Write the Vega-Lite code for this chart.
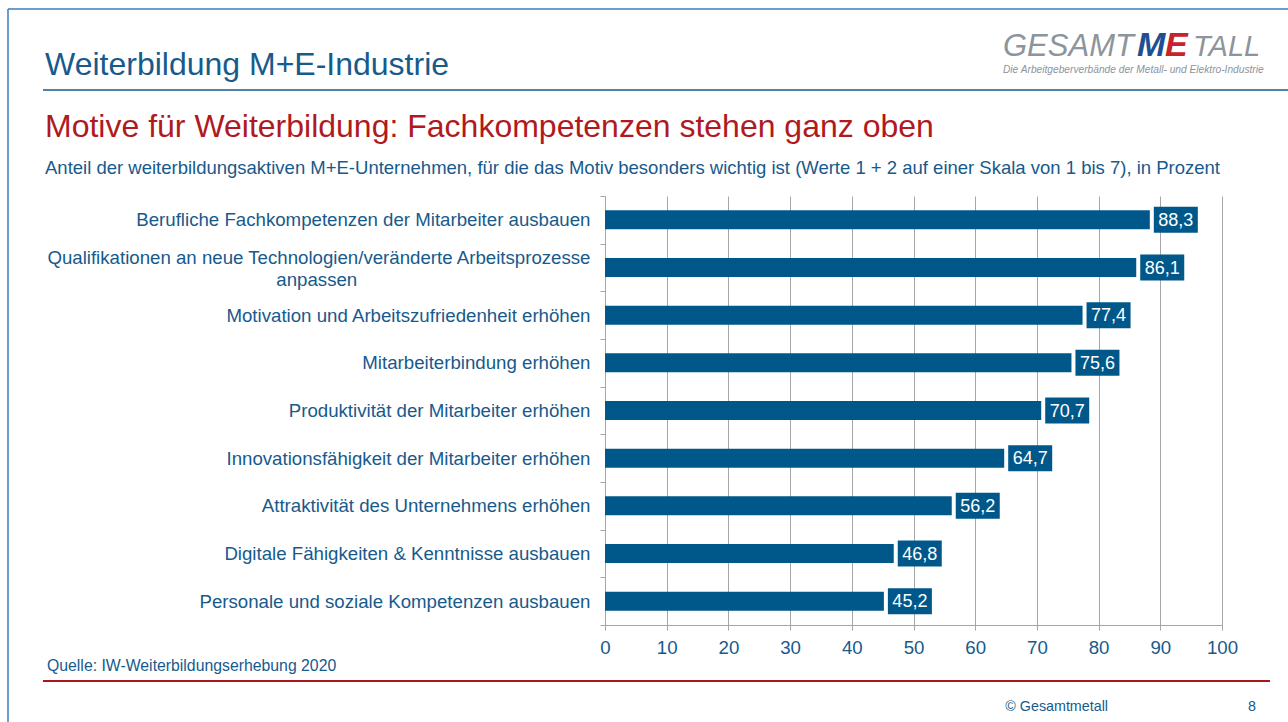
{
  "$schema": "https://vega.github.io/schema/vega-lite/v6.json",
  "width": 617,
  "height": 429,
  "autosize": {"type": "none"},
  "padding": {"left": 605, "top": 196, "right": 66, "bottom": 97},
  "background": "white",
  "config": {
    "view": {"stroke": null},
    "font": "Liberation Sans",
    "locale": {"number": {"decimal": ",", "thousands": ".", "grouping": [3], "currency": ["", " €"]}}
  },
  "layer": [
    {
      "data": {
        "values": [
          {"motiv": "Berufliche Fachkompetenzen der Mitarbeiter ausbauen", "anteil": 88.3},
          {"motiv": "Qualifikationen an neue Technologien/veränderte Arbeitsprozesse anpassen", "anteil": 86.1},
          {"motiv": "Motivation und Arbeitszufriedenheit erhöhen", "anteil": 77.4},
          {"motiv": "Mitarbeiterbindung erhöhen", "anteil": 75.6},
          {"motiv": "Produktivität der Mitarbeiter erhöhen", "anteil": 70.7},
          {"motiv": "Innovationsfähigkeit der Mitarbeiter erhöhen", "anteil": 64.7},
          {"motiv": "Attraktivität des Unternehmens erhöhen", "anteil": 56.2},
          {"motiv": "Digitale Fähigkeiten & Kenntnisse ausbauen", "anteil": 46.8},
          {"motiv": "Personale und soziale Kompetenzen ausbauen", "anteil": 45.2}
        ]
      },
      "encoding": {
        "y": {
          "field": "motiv",
          "type": "nominal",
          "sort": null,
          "scale": {"paddingInner": 0, "paddingOuter": 0},
          "axis": {
            "title": null,
            "tickBand": "extent",
            "domainColor": "#a6a6a6",
            "tickColor": "#a6a6a6",
            "tickSize": 5,
            "labelPadding": 10,
            "labelFontSize": 18.67,
            "labelColor": "#175a8c",
            "labelLimit": 600,
            "labelLineHeight": 22,
            "labelBaseline": {"condition": {"test": "datum.value == 'Qualifikationen an neue Technologien/veränderte Arbeitsprozesse anpassen'", "value": "bottom"}, "value": "middle"},
            "grid": false,
            "labelExpr": "datum.value == 'Qualifikationen an neue Technologien/veränderte Arbeitsprozesse anpassen' ? ['Qualifikationen an neue Technologien/veränderte Arbeitsprozesse', 'anpassen\u00a0\u00a0\u00a0\u00a0\u00a0\u00a0\u00a0\u00a0\u00a0\u00a0\u00a0\u00a0\u00a0\u00a0\u00a0\u00a0\u00a0\u00a0\u00a0\u00a0\u00a0\u00a0\u00a0\u00a0\u00a0\u00a0\u00a0\u00a0\u00a0\u00a0\u00a0\u00a0\u00a0\u00a0\u00a0\u00a0\u00a0\u00a0\u00a0\u00a0\u00a0\u00a0\u00a0\u00a0\u00a0\u200b'] : datum.label"
          }
        },
        "x": {
          "field": "anteil",
          "type": "quantitative",
          "scale": {"domain": [0, 100], "nice": false},
          "axis": {
            "title": null,
            "values": [0, 10, 20, 30, 40, 50, 60, 70, 80, 90, 100],
            "format": "d",
            "labelFlush": false,
            "domainColor": "#a6a6a6",
            "tickColor": "#a6a6a6",
            "gridColor": "#a6a6a6",
            "grid": true,
            "tickSize": 5,
            "labelPadding": 8,
            "labelFontSize": 18.67,
            "labelColor": "#175a8c"
          }
        }
      },
      "layer": [
        {"mark": {"type": "bar", "color": "#00588a", "height": {"band": 0.4}}},
        {
          "mark": {"type": "point", "shape": "M-1,-0.59L1,-0.59L1,0.59L-1,0.59Z", "size": 1936, "filled": true, "opacity": 1, "color": "#00588a", "xOffset": 26}
        },
        {
          "mark": {"type": "text", "color": "white", "fontSize": 18, "xOffset": 26, "dy": 1, "align": "center", "baseline": "middle"},
          "encoding": {"text": {"field": "anteil", "type": "quantitative", "format": ".1f"}}
        }
      ]
    },
    {
      "data": {"values": [{}]},
      "layer": [
        {
          "mark": {"type": "rule", "color": "#3a7cc0", "strokeWidth": 1.5},
          "encoding": {"x": {"value": -597}, "y": {"value": -187}, "x2": {"value": 683}, "y2": {"value": -187}}
        },
        {
          "mark": {"type": "rule", "color": "#3a7cc0", "strokeWidth": 1.5},
          "encoding": {"x": {"value": -597}, "y": {"value": -187}, "x2": {"value": -597}, "y2": {"value": 526}}
        },
        {
          "mark": {"type": "rule", "color": "#175a8c", "strokeWidth": 1.5},
          "encoding": {"x": {"value": -562}, "y": {"value": -106}, "x2": {"value": 683}, "y2": {"value": -106}}
        },
        {
          "mark": {"type": "rule", "color": "#a8171c", "strokeWidth": 2},
          "encoding": {"x": {"value": -562}, "y": {"value": 485}, "x2": {"value": 665}, "y2": {"value": 485}}
        },
        {
          "mark": {"type": "text", "text": "Weiterbildung M+E-Industrie", "fontSize": 32, "color": "#175a8c", "align": "left", "baseline": "alphabetic"},
          "encoding": {"x": {"value": -560}, "y": {"value": -121}}
        },
        {
          "mark": {"type": "text", "text": "Motive für Weiterbildung: Fachkompetenzen stehen ganz oben", "fontSize": 32, "color": "#b0191e", "align": "left", "baseline": "alphabetic"},
          "encoding": {"x": {"value": -560}, "y": {"value": -59}}
        },
        {
          "mark": {"type": "text", "text": "Anteil der weiterbildungsaktiven M+E-Unternehmen, für die das Motiv besonders wichtig ist (Werte 1 + 2 auf einer Skala von 1 bis 7), in Prozent", "fontSize": 18.5, "color": "#175a8c", "align": "left", "baseline": "alphabetic"},
          "encoding": {"x": {"value": -560}, "y": {"value": -22}}
        },
        {
          "mark": {"type": "text", "text": "Quelle: IW-Weiterbildungserhebung 2020", "fontSize": 15.8, "color": "#175a8c", "align": "left", "baseline": "alphabetic"},
          "encoding": {"x": {"value": -558}, "y": {"value": 475}}
        },
        {
          "mark": {"type": "text", "text": "© Gesamtmetall", "fontSize": 14.3, "color": "#175a8c", "align": "right", "baseline": "alphabetic"},
          "encoding": {"x": {"value": 503}, "y": {"value": 515}}
        },
        {
          "mark": {"type": "text", "text": "8", "fontSize": 14.3, "color": "#175a8c", "align": "right", "baseline": "alphabetic"},
          "encoding": {"x": {"value": 651}, "y": {"value": 515}}
        },
        {
          "mark": {"type": "text", "text": "GESAMT", "fontSize": 31, "fontStyle": "italic", "color": "#8c949c", "align": "left", "baseline": "alphabetic"},
          "encoding": {"x": {"value": 398}, "y": {"value": -140}}
        },
        {
          "mark": {"type": "text", "text": "M", "fontSize": 34, "fontStyle": "italic", "fontWeight": "bold", "color": "#1d4f92", "align": "left", "baseline": "alphabetic"},
          "encoding": {"x": {"value": 532}, "y": {"value": -140}}
        },
        {
          "mark": {"type": "text", "text": "E", "fontSize": 34, "fontStyle": "italic", "fontWeight": "bold", "color": "#c8232c", "align": "left", "baseline": "alphabetic"},
          "encoding": {"x": {"value": 560}, "y": {"value": -140}}
        },
        {
          "mark": {"type": "text", "text": "TALL", "fontSize": 29, "fontStyle": "italic", "color": "#8c949c", "align": "left", "baseline": "alphabetic"},
          "encoding": {"x": {"value": 588}, "y": {"value": -140}}
        },
        {
          "mark": {"type": "text", "text": "Die Arbeitgeberverbände der Metall- und Elektro-Industrie", "fontSize": 10.2, "fontStyle": "italic", "color": "#8c949c", "align": "left", "baseline": "alphabetic"},
          "encoding": {"x": {"value": 398}, "y": {"value": -123}}
        }
      ]
    }
  ]
}
